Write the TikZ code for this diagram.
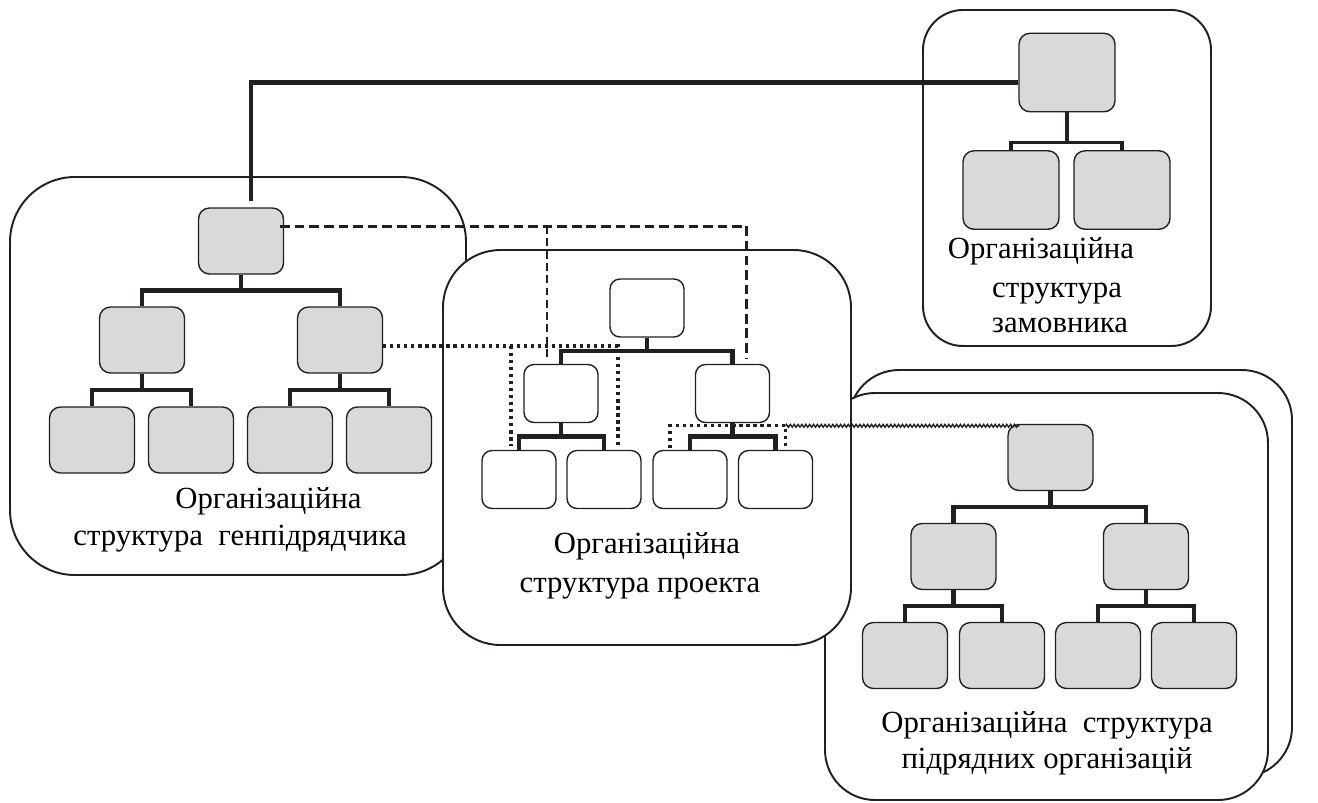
\documentclass[tikz,border=0pt]{standalone}
\usepackage{fontspec}
\setmainfont{Liberation Serif}
\usetikzlibrary{calc, decorations.pathmorphing}

\definecolor{boxgray}{RGB}{216,217,219}
\definecolor{inkblack}{RGB}{35,31,32}

\begin{document}
\begin{tikzpicture}[
  x=0.02cm, y=-0.02cm,
  frame/.style={
    draw=inkblack,
    line width=1.1pt,
    fill=white
  },
  unit box/.style={
    draw=inkblack,
    line width=0.8pt,
    rounded corners=0.22cm,
    minimum width=1.7cm,
    minimum height=1.32cm,
    inner sep=0pt,
    fill=boxgray
  },
  project box/.style={
    unit box,
    fill=white,
    minimum width=1.48cm,
    minimum height=1.16cm,
    rounded corners=0.2cm
  },
  client box/.style={
    unit box,
    minimum width=1.92cm,
    minimum height=1.57cm
  },
  tree/.style={
    draw=inkblack,
    line width=2.5pt,
    to path={(\tikztostart) |- ($(\tikztostart)!#1!(\tikztotarget)$) -| (\tikztotarget)}
  },
  tree/.default=0.5,
  main link/.style={
    draw=inkblack,
    line width=2.8pt
  },
  dash link/.style={
    draw=inkblack,
    line width=1.7pt,
    dash pattern=on 5.5pt off 2.8pt
  },
  thin dash link/.style={
    draw=inkblack,
    line width=0.9pt,
    dash pattern=on 4.5pt off 2.5pt
  },
  dot link/.style={
    draw=inkblack,
    line width=1.8pt,
    dash pattern=on 1.8pt off 2.2pt
  },
  wave link/.style={
    draw=inkblack,
    line width=0.8pt,
    decorate,
    decoration={zigzag, amplitude=0.8pt, segment length=2.2pt}
  },
  org text/.style={
    font=\fontsize{17.5}{21}\selectfont,
    inner sep=0pt
  }
]

\useasboundingbox (0,0) rectangle (1318,802);

% frames, back to front
\draw[frame, rounded corners=1.3cm] (10,177) rectangle (466,575);
\draw[frame, rounded corners=0.8cm] (923,10) rectangle (1211,346);
\draw[frame, rounded corners=1cm] (849,370) rectangle (1292,777);
\draw[frame, rounded corners=1cm] (825,393) rectangle (1268,800);
\draw[frame, rounded corners=1.15cm] (443,250) rectangle (851,645);

% general contractor
\node[unit box] (gtop) at (241,241) {};
\node[unit box] (gL) at (142,340) {};
\node[unit box] (gR) at (340,340) {};
\node[unit box] (gLa) at (92,440) {};
\node[unit box] (gLb) at (191,440) {};
\node[unit box] (gRa) at (290,440) {};
\node[unit box] (gRb) at (389,440) {};
\draw[tree] (gtop.south) to (gL.north) (gtop.south) to (gR.north);
\draw[tree] (gL.south) to (gLa.north) (gL.south) to (gLb.north);
\draw[tree] (gR.south) to (gRa.north) (gR.south) to (gRb.north);

% customer
\node[client box] (ctop) at (1067,72.5) {};
\node[client box] (cL) at (1011,190) {};
\node[client box] (cR) at (1122,190) {};
\draw[tree=0.8, line width=2.2pt] (ctop.south) to (cL.north) (ctop.south) to (cR.north);

% project
\node[project box] (ptop) at (647,308) {};
\node[project box] (pL) at (561,393.5) {};
\node[project box] (pR) at (732.5,393.5) {};
\node[project box] (pA) at (519,479.5) {};
\node[project box] (pB) at (604,479.5) {};
\node[project box] (pC) at (690,479.5) {};
\node[project box] (pD) at (775.5,479.5) {};
\draw[tree] (ptop.south) to (pL.north) (ptop.south) to (pR.north);
\draw[tree] (pL.south) to (pA.north) (pL.south) to (pB.north);
\draw[tree] (pR.south) to (pC.north) (pR.south) to (pD.north);

% subcontractors
\node[unit box] (stop) at (1050.5,457.5) {};
\node[unit box] (sL) at (953.5,556.5) {};
\node[unit box] (sR) at (1146,556.5) {};
\node[unit box] (sLa) at (905,655.5) {};
\node[unit box] (sLb) at (1002,655.5) {};
\node[unit box] (sRa) at (1098,655.5) {};
\node[unit box] (sRb) at (1194,655.5) {};
\draw[tree] (stop.south) to (sL.north) (stop.south) to (sR.north);
\draw[tree] (sL.south) to (sLa.north) (sL.south) to (sLb.north);
\draw[tree] (sR.south) to (sRa.north) (sR.south) to (sRb.north);

% links between the structures
\draw[main link] ($(gtop.north)+(10,-6)$) |- ($(ctop.west)+(0,10)$);

\coordinate (dashstart) at ($(gtop.east)+(-4,-15)$);
\coordinate (pLtap) at ($(pL.north)+(-14,-3)$);
\draw[dash link] (dashstart) -| ($(pR.north)+(14,-5)$);
\draw[thin dash link] (pLtap |- dashstart) -- (pLtap);

\coordinate (gRtap) at ($(gR.east)+(0,6)$);
\coordinate (pAtap) at ($(pA.north)+(-8,-4)$);
\coordinate (pBtap) at ($(pB.north)+(14,-4)$);
\draw[dot link] (gRtap) -| (pBtap);
\draw[dot link] (pAtap |- gRtap) -- (pAtap);

\coordinate (pCtap) at ($(pC.north)+(-20,-2)$);
\coordinate (pDtap) at ($(pD.north)+(10,-2)$);
\coordinate (subtap) at ($(stop.north west)+(12,2)$);
\draw[dot link] (pCtap) -- (pCtap |- subtap) -| (pDtap);
\draw[wave link] (subtap -| pDtap) -- (subtap);

% captions
\node[org text, anchor=base west] (gtext1) at (175,508) {Організаційна};
\node[org text, anchor=base west] (gtext2) at (73,545) {структура\ \ генпідрядчика};
\node[org text, anchor=base] (ptext1) at (647,553) {Організаційна};
\node[org text, anchor=base] (ptext2) at (640,592) {структура проекта};
\node[org text, anchor=base] (stext1) at (1047,732) {Організаційна\ \ структура};
\node[org text, anchor=base] (stext2) at (1047,768) {підрядних організацій};
\node[org text, anchor=base] (ctext1) at (1041,258) {Організаційна};
\node[org text, anchor=base] (ctext2) at (1057,297) {структура};
\node[org text, anchor=base] (ctext3) at (1060,332) {замовника};

\end{tikzpicture}
\end{document}
